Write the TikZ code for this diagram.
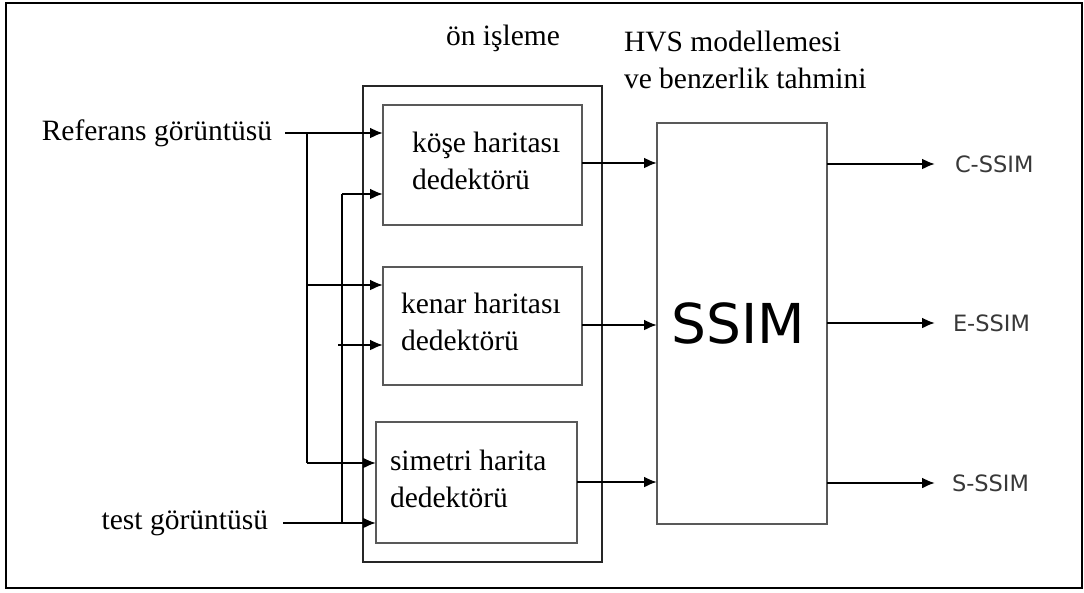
\documentclass[tikz,border=0pt]{standalone}
\usepackage{fontspec}
\setmainfont{Liberation Serif}
\newfontfamily\sansfont{DejaVu Sans}
\usetikzlibrary{arrows.meta}

\begin{document}
\begin{tikzpicture}[x=1pt, y=-1pt, inner sep=0pt, outer sep=0pt,
  blockbox/.style={draw=black!65, line width=2.2pt},
  wire/.style={draw=black, line width=2.2pt},
  arr/.style={wire, -{Latex[length=13pt,width=11pt]}},
  serif/.style={font=\fontsize{29.5}{37}\selectfont, align=left},
  outlabel/.style={font=\sansfont\fontsize{22.5}{26}\selectfont, text=black!78}]
\useasboundingbox (0,0) rectangle (1084,592);
\draw[line width=2.8pt] (6,3) rectangle (1082,588);

% on isleme
\node[draw=black!85, line width=2.8pt, minimum width=239pt, minimum height=476pt] (pre) at (482.5,324) {};
\node[serif] (pretitle) at (503,38) {ön işleme};
\node[blockbox, minimum width=199pt, minimum height=120pt] (corner) at (482.5,165) {};
\node[blockbox, minimum width=199pt, minimum height=118pt] (edge) at (482.5,326) {};
\node[blockbox, minimum width=201pt, minimum height=121pt] (sym) at (476.5,482.5) {};
\node[serif, anchor=west] (cornertxt) at (412,160.5) {köşe haritası\\dedektörü};
\node[serif, anchor=west] (edgetxt) at (401,322) {kenar haritası\\dedektörü};
\node[serif, anchor=west] (symtxt) at (390,478.5) {simetri harita\\dedektörü};

% HVS / SSIM
\node[serif, anchor=west] (hvstitle) at (624,60) {HVS modellemesi\\ve benzerlik tahmini};
\node[blockbox, minimum width=170pt, minimum height=401pt] (ssim) at (742,323.5) {};
\node[font=\sansfont\fontsize{55}{60}\selectfont] (ssimtxt) at (738,323) {SSIM};

% girisler
\node[serif, anchor=east] (ref) at (272,133) {Referans görüntüsü};
\node[serif, anchor=east] (test) at (268,523) {test görüntüsü};
\coordinate (refbus) at (307,133);
\coordinate (testbus) at (342,523);

\draw[arr] ([xshift=13pt]ref.east) -- (corner.west |- ref.east);
\draw[wire] (refbus) -- (refbus |- 0,463);
\draw[arr] (refbus |- 0,285) -- (edge.west |- 0,285);
\draw[arr] (refbus |- 0,463) -- (sym.west |- 0,463);

\draw[arr] ([xshift=15pt]test.east) -- (sym.west |- test.east);
\draw[wire] (testbus) -- (testbus |- 0,194);
\draw[arr] (testbus |- 0,194) -- (corner.west |- 0,194);
\draw[arr] (338,345) -- (edge.west |- 0,345);

% ciktilar
\draw[arr] (corner.east |- 0,163) -- (ssim.west |- 0,163);
\draw[arr] (edge.east |- 0,325) -- (ssim.west |- 0,325);
\draw[arr] (sym.east |- 0,482) -- (ssim.west |- 0,482);

\node[outlabel, anchor=west] (cssim) at (955,164) {C-SSIM};
\node[outlabel, anchor=west] (essim) at (953,323) {E-SSIM};
\node[outlabel, anchor=west] (sssim) at (952,483) {S-SSIM};
\draw[arr] (ssim.east |- cssim.west) -- ([xshift=-20pt]cssim.west);
\draw[arr] (ssim.east |- essim.west) -- ([xshift=-18pt]essim.west);
\draw[arr] (ssim.east |- sssim.west) -- ([xshift=-17pt]sssim.west);
\end{tikzpicture}
\end{document}
